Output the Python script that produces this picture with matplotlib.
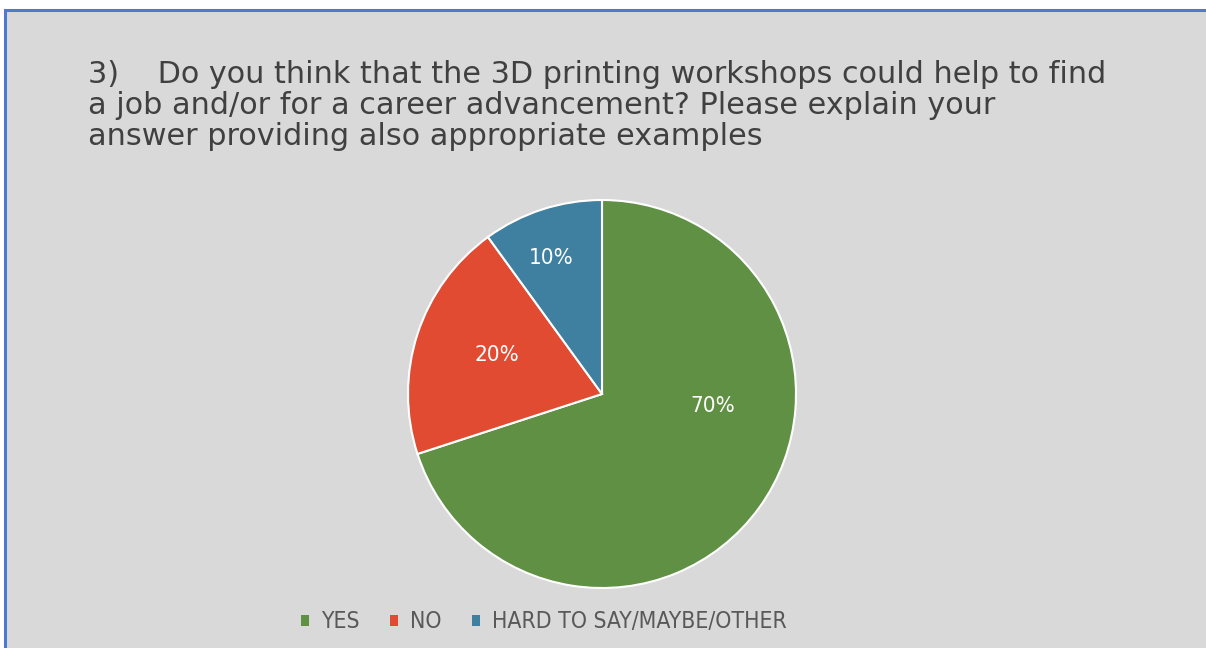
import matplotlib
matplotlib.use("Agg")
import matplotlib.pyplot as plt
from matplotlib.patches import Rectangle

labels = ["YES", "NO", "HARD TO SAY/MAYBE/OTHER"]
shares = [70, 20, 10]
colors = ["#5f9043", "#e04b32", "#3f80a1"]
title = ("3)    Do you think that the 3D printing workshops could help to find\n"
         "a job and/or for a career advancement? Please explain your\n"
         "answer providing also appropriate examples")

W, H = 1206, 648
fig = plt.figure(figsize=(W / 100, H / 100), dpi=100, facecolor="white")

# grey chart area with the blue frame (cut on the right and bottom)
fig.patches.append(Rectangle((5 / W, -0.1), 1.1, (H - 10) / H + 0.1,
                             transform=fig.transFigure, facecolor="#d9d9d9",
                             edgecolor="#4a7bd0", linewidth=2.2, zorder=-5))

fig.text(88 / W, 1 - 60 / H, title, fontsize=21.8, color="#404040", va="top",
         ha="left", linespacing=1.08, family="DejaVu Sans")

cx, cy, r = 602, 394, 194
ax = fig.add_axes([(cx - r) / W, (H - cy - r) / H, 2 * r / W, 2 * r / H])
wedges, texts, autotexts = ax.pie(
    shares, colors=colors, startangle=90, counterclock=False,
    autopct="%d%%", pctdistance=0.65,
    wedgeprops=dict(edgecolor="white", linewidth=1.5),
    textprops=dict(color="white", fontsize=16, family="DejaVu Sans",
                   fontstretch="condensed"))
# label spots as Excel placed them
spots = [(0.57, -0.06), (-0.54, 0.20), (-0.26, 0.70)]
for t, (x, y) in zip(autotexts, spots):
    t.set_position((x, y))
    t.set_ha("center")
    t.set_va("center")
ax.set_xlim(-1, 1)
ax.set_ylim(-1, 1)
ax.set_aspect("equal")
ax.axis("off")

fig.legend(wedges, labels, loc="center", bbox_to_anchor=(544 / W, 1 - 622 / H),
           ncol=3, frameon=False, handlelength=0.35, handleheight=0.35,
           handletextpad=0.5, columnspacing=1.35, labelcolor="#595959",
           prop=dict(family="DejaVu Sans", stretch="condensed", size=16.5))
for h in fig.legends[0].legend_handles:
    h.set_edgecolor("none")

fig.savefig("out.png", dpi=100, facecolor="white")
